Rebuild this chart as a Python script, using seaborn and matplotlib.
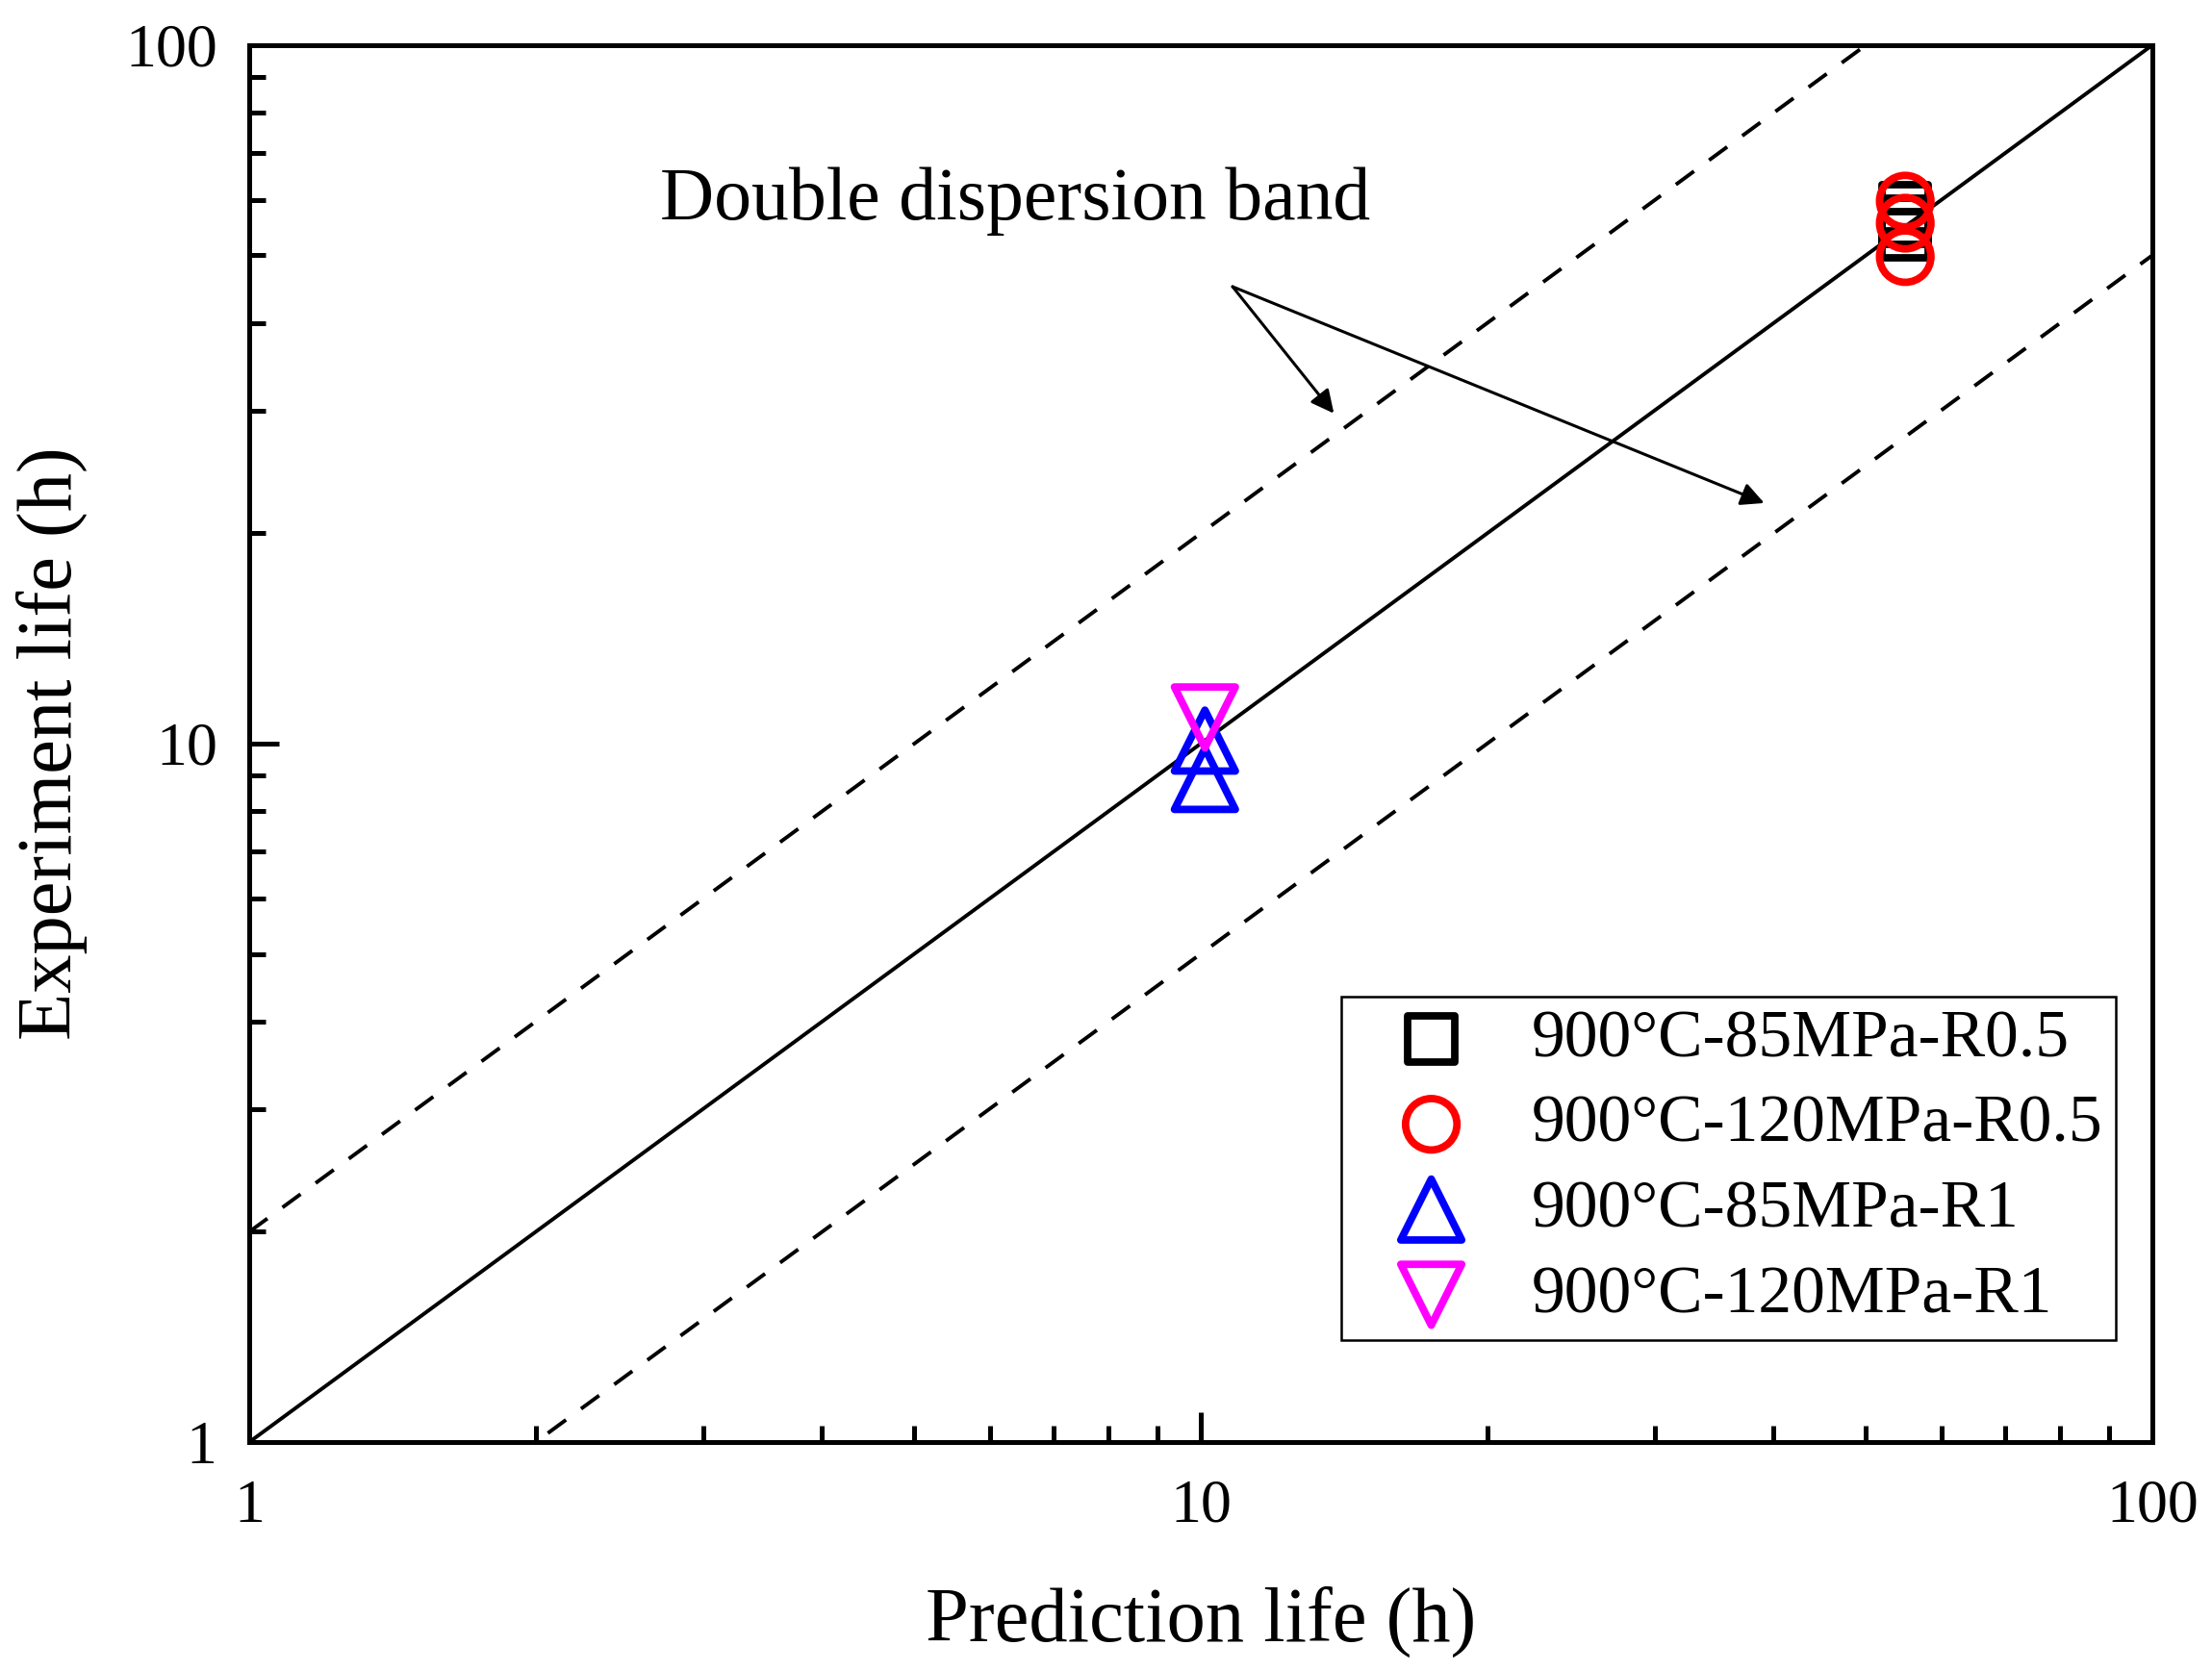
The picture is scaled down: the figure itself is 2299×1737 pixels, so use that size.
import numpy as np
import pandas as pd
import seaborn as sns
import matplotlib.pyplot as plt

# data (prediction life, experiment life), in hours
series_names = ['900°C-85MPa-R0.5', '900°C-120MPa-R0.5', '900°C-85MPa-R1', '900°C-120MPa-R1']
sq_pred = [55.0, 55.0, 55.0]
sq_exp = [58.5, 56.0, 53.5]
circ_pred = [55.0, 55.0, 55.0]
circ_exp = [59.8, 55.6, 49.8]
tri_up_pred = [10.1, 10.1]
tri_up_exp = [10.1, 8.9]
tri_dn_pred = [10.1]
tri_dn_exp = [10.9]

line_x = np.array([1.0, 100.0])
band_factors = [2.0, 0.5]
tick_vals = [1, 10, 100]
tick_labels = ['1', '10', '100']

sns.set_style('ticks')
plt.rcParams['font.family'] = ['Liberation Serif', 'DejaVu Serif']
plt.rcParams['text.color'] = 'black'
plt.rcParams['axes.labelcolor'] = 'black'
plt.rcParams['xtick.color'] = 'black'
plt.rcParams['ytick.color'] = 'black'
plt.rcParams['axes.edgecolor'] = 'black'

fig = plt.figure(figsize=(11.495, 8.685), dpi=200)
ax = fig.add_axes([0.1127, 0.137, 0.8603, 0.836])

# 1:1 line and the factor-of-two band
ax.plot(line_x, line_x, color='black', lw=1.4, zorder=1)
for f in band_factors:
    ax.plot(line_x, line_x * f, color='black', lw=1.4, ls=(0, (6, 5)), zorder=1)

groups = [
    (sq_pred, sq_exp, 's', 'black', 300),
    (circ_pred, circ_exp, 'o', 'red', 370),
    (tri_up_pred, tri_up_exp, '^', 'blue', 520),
    (tri_dn_pred, tri_dn_exp, 'v', 'magenta', 520),
]
for name, (xs, ys, m, c, s) in zip(series_names, groups):
    df = pd.DataFrame({'pred': xs, 'exp': ys})
    sns.scatterplot(data=df, x='pred', y='exp', marker=m, s=s, facecolor='none',
                    edgecolor=c, linewidth=2.8, label=name, ax=ax, zorder=3)

ax.set_xscale('log')
ax.set_yscale('log')
ax.set_xlim(1, 100)
ax.set_ylim(1, 100)
ax.set_xticks(tick_vals)
ax.set_xticklabels(tick_labels)
ax.set_yticks(tick_vals)
ax.set_yticklabels(tick_labels)

ax.tick_params(which='major', direction='in', length=11, width=1.8, labelsize=23,
               top=False, right=False)
ax.tick_params(axis='x', which='major', pad=14)
ax.tick_params(axis='y', which='major', pad=12)
ax.tick_params(which='minor', direction='in', length=6, width=1.8, top=False, right=False)
for sp in ax.spines.values():
    sp.set_linewidth(1.8)
    sp.set_visible(True)

ax.set_xlabel('Prediction life (h)', fontsize=29, labelpad=19)
ax.set_ylabel('Experiment life (h)', fontsize=29, labelpad=14)

ax.text(2.7, 59.7, 'Double dispersion band', fontsize=28, ha='left', va='center')
arrow_kw = dict(arrowstyle='-|>', lw=1.1, color='black', mutation_scale=18, shrinkA=0, shrinkB=0)
ax.annotate('', xy=(13.8, 29.7), xytext=(10.8, 45.1), arrowprops=arrow_kw)
ax.annotate('', xy=(39.1, 22.1), xytext=(10.8, 45.1), arrowprops=arrow_kw)

handles, labels = ax.get_legend_handles_labels()
leg = ax.legend(handles, labels, loc='lower right', bbox_to_anchor=(0.981, 0.073),
                borderaxespad=0, fontsize=25, frameon=True, fancybox=False,
                framealpha=1, edgecolor='black', handlelength=2.3,
                handletextpad=0.35, labelspacing=0.36, borderpad=0.2)
leg.get_frame().set_linewidth(0.9)

fig.savefig('out.png', dpi=200)
